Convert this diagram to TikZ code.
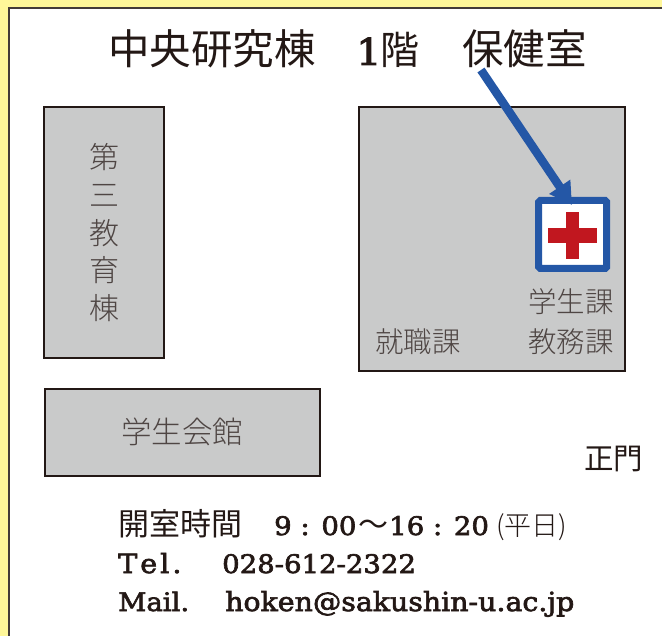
\documentclass[tikz,border=0pt]{standalone}
\usepackage{fontspec}
\setmainfont{DejaVu Serif}
\newfontfamily\lat{DejaVu Serif}[FakeBold=2.5,FakeStretch=1.08]
\newfontfamily\cjk{Noto Sans CJK JP}
\newfontfamily\cjkl{Noto Sans CJK JP Light}
\usetikzlibrary{arrows.meta}
\definecolor{ink}{HTML}{231815}
\definecolor{bldg}{HTML}{C9CACA}
\definecolor{bluem}{HTML}{2457A6}
\definecolor{redm}{HTML}{C1171F}
\definecolor{yel}{HTML}{FFF799}
\tikzset{
 bldgbox/.style={draw=ink,fill=bldg,line width=2pt,inner sep=0pt,anchor=north west},
 roomlabel/.style={text=ink!80,font=\cjkl\fontsize{28.5}{30}\selectfont,inner sep=0pt},
 vlabel/.style={text=ink!80,font=\cjkl\fontsize{30}{30}\selectfont,inner sep=0pt},
 title/.style={text=ink,font=\cjk\fontsize{41.5}{44}\selectfont,inner sep=0pt,anchor=base west},
 info/.style={text=ink,inner sep=0pt,anchor=base west},
 latin/.style={info,font=\lat\fontsize{25.5}{30}\selectfont},
 jpinfo/.style={info,font=\cjk\fontsize{31}{32}\selectfont},
}
\begin{document}
\begin{tikzpicture}[x=1pt,y=-1pt]
\useasboundingbox (0,0) rectangle (662,636);
\fill[yel] (0,0) rectangle (662,636);
\fill[white] (9,8) rectangle (662,636);
\draw[draw=ink!85,line width=2pt] (9,636) -- (9,8) -- (662,8);
\node[title] (t1) at (108,65) {中央研究棟};
\node[title,font=\lat\fontsize{37}{40}\selectfont] (t2a) at (356,65) {1};
\node[title,font=\cjk\fontsize{39}{40}\selectfont] (t2b) at (380,65) {階};
\node[title] (t3) at (462,65) {保健室};

\node[bldgbox,minimum width=120pt,minimum height=250.5pt] (b3) at (43,106.5) {};
\node[vlabel] (c1) at (104.5,157) {第};
\node[vlabel] (c2) at (104.5,195) {三};
\node[vlabel] (c3) at (104.5,233) {教};
\node[vlabel] (c4) at (104.5,270) {育};
\node[vlabel] (c5) at (104.5,308) {棟};
\node[bldgbox,minimum width=266pt,minimum height=263.5pt] (main) at (358.2,106.5) {};
\node[bldgbox,minimum width=275pt,minimum height=86.5pt] (gk) at (44,388.5) {};
\node[vlabel,font=\cjkl\fontsize{30.5}{30}\selectfont] (gkt) at (182,432) {学生会館};

\node[draw=bluem,fill=white,line width=7pt,rounded corners=1.5pt,minimum width=68pt,minimum height=68pt,inner sep=0pt] (icon) at (572.7,234.5) {};
\fill[redm] (565.5,212.5) rectangle (579,259);
\fill[redm] (548,228) rectangle (597,243.5);
\coordinate (arrowstart) at (481,70);
\coordinate (arrowtip) at (572,205);
\draw[bluem,line width=8.5pt,-{Triangle[length=22pt,width=24pt]}] (arrowstart) -- (arrowtip);

\node[roomlabel] (r1) at (571,302) {学生課};
\node[roomlabel] (r2) at (571,342) {教務課};
\node[roomlabel] (r3) at (418,342) {就職課};
\node[text=ink,inner sep=0pt,font=\cjk\fontsize{29.5}{30}\selectfont] (gate) at (613.5,459) {正門};

\node[jpinfo] (h1) at (118,536) {開室時間};
\node[latin] (h2) at (274,535) {9 : 00};
\node[jpinfo,font=\cjk\fontsize{30}{30}\selectfont] (h3) at (358,535) {～};
\node[latin] (h4) at (389,535) {16 : 20};
\node[info,font=\cjkl\fontsize{27}{30}\selectfont] (h5) at (496,535) {(平日)};
\node[latin,font=\lat\fontsize{26.5}{30}\selectfont] (l2a) at (118,573) {T\kern3pt e\kern3pt l\kern3pt .};
\node[latin] (l2b) at (222,573) {028-612-2322};
\node[latin] (l3a) at (118,611) {Mail.};
\node[latin,font=\lat\fontsize{26.3}{30}\selectfont] (l3b) at (225,611) {hoken@sakushin-u.ac.jp};
\end{tikzpicture}
\end{document}
